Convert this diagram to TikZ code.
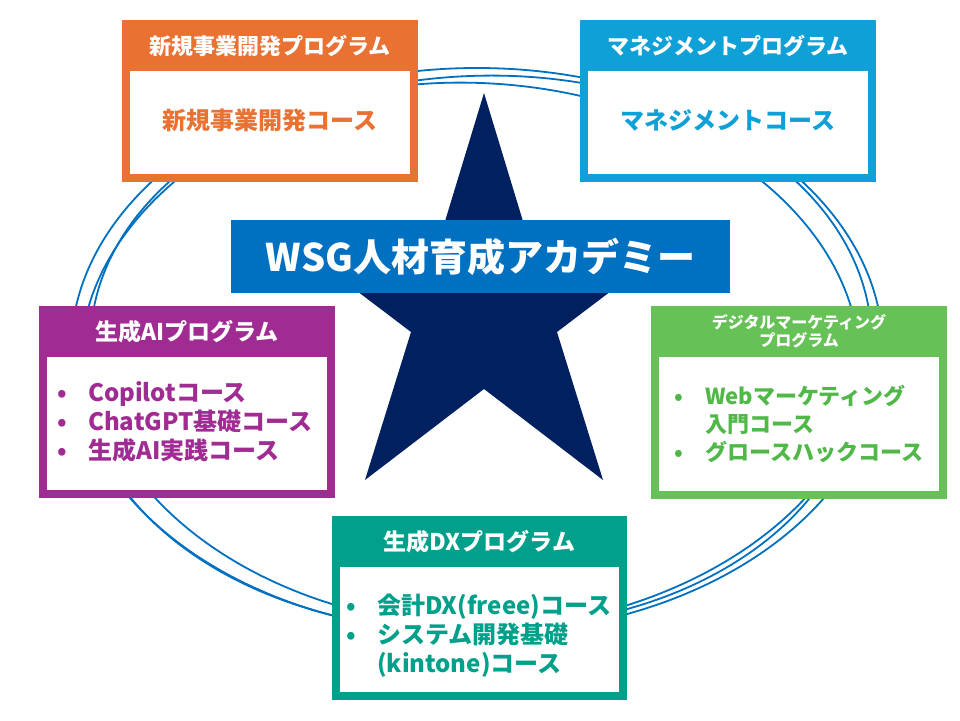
\documentclass[tikz,border=0pt]{standalone}
\usepackage{fontspec}
\setmainfont{Noto Sans CJK JP}
\definecolor{bizorange}{HTML}{E97132}
\definecolor{mgtblue}{HTML}{10A0D8}
\definecolor{aipurple}{HTML}{A02B93}
\definecolor{mktgreen}{HTML}{66C157}
\definecolor{mkttext}{HTML}{4FB847}
\definecolor{dxteal}{HTML}{00A08A}
\definecolor{wsgblue}{HTML}{0070C0}
\definecolor{starnavy}{HTML}{002060}
\newcommand{\bl}{\makebox[31pt][l]{•}}
\newcommand{\ind}{\hspace*{31pt}}

\begin{document}
\begin{tikzpicture}[x=1pt, y=-1pt,
  ring/.style={draw=wsgblue, line width=1.8pt},
  card/.style={rectangle, draw=#1, line width=8pt, fill=white,
               inner sep=0pt, minimum width=288pt},
  head/.style={rectangle, fill=#1, inner sep=0pt, anchor=north,
               minimum width=296pt, minimum height=51pt, text=white,
               font=\fontsize{22}{25}\selectfont\bfseries, align=center},
  course/.style={text=#1, inner sep=0pt, align=left,
                 font=\fontsize{24}{29}\selectfont\bfseries},
  banner/.style={rectangle, fill=wsgblue, text=white, inner sep=0pt,
                 minimum width=499pt, minimum height=73pt,
                 font=\fontsize{38}{42}\selectfont\bfseries}
]
\useasboundingbox (0,0) rectangle (960,720);

\draw[ring] (477,351) ellipse [x radius=406, y radius=283];
\draw[ring, rotate around={3:(476,353)}] (476,353) ellipse [x radius=396, y radius=277];
\draw[ring, rotate around={-3:(475,355)}] (475,355) ellipse [x radius=385, y radius=272];

\fill[starnavy] (484,93) -- (529,241) -- (677,241) -- (557,332) -- (603,480)
    -- (484,389) -- (365,480) -- (411,332) -- (291,241) -- (439,241) -- cycle;

\node[banner] (wsg) at (480.5,256.5) {WSG人材育成アカデミー};

\node[card=bizorange, minimum height=154pt] (biz) at (270,101) {};
\node[head=bizorange] (bizh) at (biz.north) {新規事業開発プログラム};
\node[course=bizorange] (bizc) at (270,120) {新規事業開発コース};

\node[card=mgtblue, minimum height=154pt] (mgt) at (728,101) {};
\node[head=mgtblue] (mgth) at (mgt.north) {マネジメントプログラム};
\node[course=mgtblue] (mgtc) at (728,120) {マネジメントコース};

\node[card=aipurple, minimum height=184pt] (ai) at (187,402) {};
\node[head=aipurple, font=\fontsize{23}{26}\selectfont\bfseries] (aih) at (ai.north) {生成AIプログラム};
\node[course=aipurple, anchor=west] (aic) at (57,422)
    {\bl Copilotコース\\ \bl ChatGPT基礎コース\\ \bl 生成AI実践コース};

\node[card=mktgreen, minimum height=185pt] (mkt) at (799,402.5) {};
\node[head=mktgreen, font=\fontsize{16}{18}\selectfont\bfseries] (mkth) at (mkt.north)
    {デジタルマーケティング\\プログラム};
\node[course=mkttext, anchor=west, font=\fontsize{22}{28}\selectfont\bfseries] (mktc) at (674,424)
    {\bl Webマーケティング\\ \ind 入門コース\\ \bl グロースハックコース};

\node[card=dxteal, minimum height=176pt, minimum width=287pt] (dx) at (479.5,608) {};
\node[head=dxteal, minimum width=295pt, font=\fontsize{23}{26}\selectfont\bfseries] (dxh) at (dx.north) {生成DXプログラム};
\node[course=dxteal, anchor=west] (dxc) at (346,636)
    {\bl 会計DX(freee)コース\\ \bl システム開発基礎\\ \ind (kintone)コース};

\end{tikzpicture}
\end{document}
